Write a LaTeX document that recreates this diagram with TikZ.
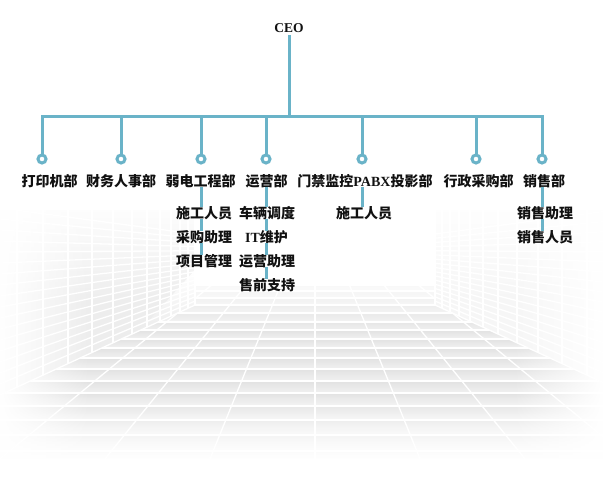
\documentclass[tikz,border=0pt]{standalone}
\usepackage{fontspec}
\setmainfont{Liberation Serif}
\newfontfamily\cjk{Noto Sans CJK SC}
\newfontfamily\lat{Liberation Serif}
\usetikzlibrary{fadings}
\definecolor{linec}{RGB}{106,179,200}
\definecolor{tile}{RGB}{234,234,234}
\definecolor{tiledark}{RGB}{226,226,226}
\definecolor{tilelight}{RGB}{241,241,241}
\definecolor{walltile}{RGB}{237,237,237}
\definecolor{ink}{RGB}{17,17,17}
\begin{document}
\begin{tikzpicture}[x=1pt,y=-1pt,
  dept/.style={font=\cjk\bfseries\fontsize{14}{16}\selectfont, text=ink, inner sep=0pt, text height=11pt, text depth=0.5pt},
  subitem/.style={dept},
  conn/.style={draw=linec, line width=3pt},
  dotnode/.style={circle, draw=linec, line width=3pt, fill=white, minimum size=8pt, inner sep=0pt},
  grout/.style={white, line width=1.3pt}]
\useasboundingbox (0,0) rectangle (603,500);
\fill[white] (0,0) rectangle (603,500);

% ---------- background: tiled room ----------
% floor
\begin{scope}
  \clip (0,395) -- (195,305) -- (195,284) -- (435,284) -- (435,305) -- (603,382.5) -- (603,470) -- (0,470) -- cycle;
  \fill[tile] (0,280) rectangle (603,470);
  \foreach \y/\yn in {285/291,291/298,298/305,305/313,313/322,322/330,330/339,339/348,348/358,358/369,369/381,381/393,393/406,406/420,420/435,435/451,451/470}
    \shade[top color=tiledark, bottom color=tilelight] (0,\y) rectangle (603,\yn);
  \foreach \y in {285,291,298,305,313,322,330,339,348,358,369,381,393,406,420,435,451}
    \draw[grout] (0,\y) -- (603,\y);
  \foreach \k in {-9,...,9}
    \draw[grout] (315,200) -- ({315+\k*109.5},470);
\end{scope}
% left wall
\begin{scope}
  \clip (0,210) -- (195,210) -- (195,305) -- (0,395) -- cycle;
  \fill[walltile] (0,210) rectangle (195,400);
  \foreach \yy in {384,373,362,351,340,329,318,307,296,285,274,263,252,241,230,219,208}
    \draw[grout] (0,\yy) -- (315,250);
  \foreach \xx in {17,43,68,92,113,132,147,160,171,180,188}
    \draw[grout] (\xx,200) -- (\xx,400);
\end{scope}
\draw[grout] (195,210) -- (195,305);
\draw[grout] (0,395) -- (195,305);
% right wall
\begin{scope}
  \clip (435,210) -- (603,210) -- (603,382.5) -- (435,305) -- cycle;
  \fill[walltile] (435,210) rectangle (603,390);
  \foreach \yy in {384,373,362,351,340,329,318,307,296,285,274,263,252,241,230,219,208}
    \draw[grout] ({603},{250+(\yy-250)*0.9143}) -- (315,250);
  \foreach \xx in {587,562,538,517,498,483,470,459,450,442}
    \draw[grout] (\xx,200) -- (\xx,400);
  \fill[white, opacity=0.5] (435,200) rectangle (603,400);
\end{scope}
\draw[grout] (435,210) -- (435,305);
\draw[grout] (603,382.5) -- (435,305);
% fades
\fill[white, path fading=south] (0,200) rectangle (603,305);
\fill[white, path fading=south] (195,270) -- (435,270) -- (435,305) -- (490,330.5) -- (140,330.5) -- cycle;
\fill[white, path fading=north] (0,392) rectangle (603,460);
\fill[white] (0,459) rectangle (603,480);
\fill[white, path fading=east] (0,200) rectangle (90,480);
\fill[white, path fading=west] (513,200) rectangle (603,480);

% ---------- organisation chart ----------
\node[font=\bfseries\fontsize{13.5}{15}\selectfont, text=ink, inner sep=0pt, text height=9pt, text depth=0pt] (ceo) at (289,28) {CEO};
\coordinate (bar) at (289,117);
\coordinate (p1) at (42,159);
\coordinate (p2) at (121,159);
\coordinate (p3) at (201,159);
\coordinate (p4) at (266,159);
\coordinate (p5) at (362,159);
\coordinate (p6) at (476,159);
\coordinate (p7) at (542,159);

\draw[conn] ([yshift=-2.5pt]ceo.south) -- (bar);
\draw[conn] (p1) -- (p1 |- bar) -- (p7 |- bar) -- (p7);
\foreach \p in {p2,p3,p4,p5,p6}
  \draw[conn] (\p |- bar) -- (\p);
\foreach \p/\n in {p1/o1,p2/o2,p3/o3,p4/o4,p5/o5,p6/o6,p7/o7}
  \node[dotnode] (\n) at (\p) {};

% departments
\node[dept] (d1) at (49.5,181) {打印机部};
\node[dept] (d2) at (121,181) {财务人事部};
\node[dept] (d3) at (200.5,181) {弱电工程部};
\node[dept] (d4) at (266.5,181) {运营部};
\node[dept] (d5) at (365,181) {门禁监控{\lat PABX}投影部};
\node[dept] (d6) at (478.5,181) {行政采购部};
\node[dept] (d7) at (544,181) {销售部};

% sub items
\node[subitem] (s31) at (204,213) {施工人员};
\node[subitem] (s32) at (204,237) {采购助理};
\node[subitem] (s33) at (204,261) {项目管理};

\node[subitem] (s41) at (267,213) {车辆调度};
\node[subitem] (s42) at (266.5,237) {{\lat IT}维护};
\node[subitem] (s43) at (267,261) {运营助理};
\node[subitem] (s44) at (267,285) {售前支持};

\node[subitem] (s51) at (364,213) {施工人员};

\node[subitem] (s71) at (545,213) {销售助理};
\node[subitem] (s72) at (545,237) {销售人员};

\draw[conn] (d3.south -| p3) -- (s31.north -| p3);
\draw[conn] (s31.south -| p3) -- (s32.north -| p3);
\draw[conn] (s32.south -| p3) -- (s33.north -| p3);

\draw[conn] (d4.south -| p4) -- (s41.north -| p4);
\draw[conn] (s41.south -| p4) -- (s42.north -| p4);
\draw[conn] (s42.south -| p4) -- (s43.north -| p4);
\draw[conn] (s43.south -| p4) -- (s44.north -| p4);

\draw[conn] (d5.south -| p5) -- (s51.north -| p5);

\draw[conn] (d7.south -| p7) -- (s71.north -| p7);
\draw[conn] (s71.south -| p7) -- (s72.north -| p7);
\end{tikzpicture}
\end{document}
